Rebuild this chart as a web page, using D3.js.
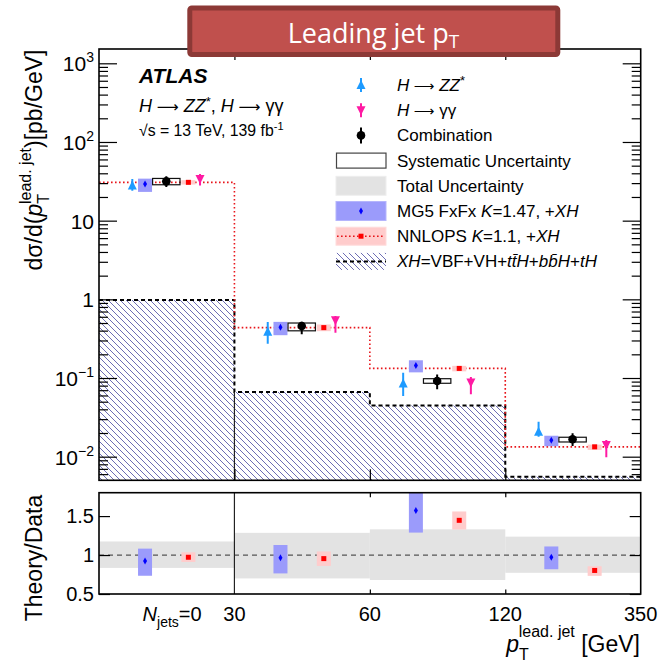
<!DOCTYPE html>
<html>
<head>
<meta charset="utf-8">
<script src="https://cdn.jsdelivr.net/npm/d3@7"></script>
<style>
  body { margin: 0; background: #fff; }
  svg { display: block; font-family: "Liberation Sans", Arial, Helvetica, sans-serif; }
</style>
</head>
<body>
<svg id="chart" width="658" height="662"></svg>
<script>
// ---- Leading-jet pT bins: 0-jet bin, 30-60, 60-120, 120-350 GeV ----
const edgeLabels = ["30", "60", "120", "350"];

// Measured differential cross sections (combination) and uncertainties
const combined  = [31.6, 0.458, 0.0916, 0.01663];
const combSysLo = [28.6, 0.398, 0.0857, 0.01538];
const combSysHi = [34.4, 0.500, 0.0980, 0.01766];
const combTotLo = [26.8, 0.360, 0.0718, 0.01367];
const combTotHi = [36.8, 0.519, 0.1110, 0.01980];

// Individual decay channels
const hzz   = [27.9, 0.388, 0.085, 0.0208];
const hzzLo = [24.0, 0.273, 0.059, 0.0179];
const hzzHi = [33.9, 0.515, 0.117, 0.0279];
const hgg   = [33.9, 0.541, 0.088, 0.01407];
const hggLo = [27.9, 0.377, 0.062, 0.0098];
const hggHi = [39.2, 0.613, 0.103, 0.0163];

// Theory predictions
const mg5      = [29.2, 0.442, 0.144, 0.01615];
const mg5Lo    = [23.2, 0.350, 0.118, 0.0136];
const mg5Hi    = [34.2, 0.517, 0.168, 0.01846];
const nnlops   = [30.7, 0.437, 0.1324, 0.01334];
const nnlopsLo = [28.8, 0.394, 0.1216, 0.01219];
const nnlopsHi = [32.7, 0.479, 0.1428, 0.01424];
const xhPart   = [0.98, 0.0664, 0.0447, 0.00557];

// Relative total uncertainty of the combined measurement (ratio band)
const totRelLo = [0.835, 0.700, 0.680, 0.772];
const totRelHi = [1.174, 1.285, 1.330, 1.236];

// ---- layout ----
const svg = d3.select("#chart");
const L = 99, R = 640.7;
const mainTop = 49, mainBot = 480.3;
const ratTop = 492.7, ratBot = 594;
const ARROW = { t: " \u27f6 ", ff: '"DejaVu Sans", sans-serif', sc: 0.85 };

const x = d3.scaleLinear().domain([0, 4]).range([L, R]);
const y = d3.scaleLog().domain([0.00501, 1520]).range([mainBot, mainTop]);
const yr = d3.scaleLinear().domain([0.5, 1.8]).range([ratBot, ratTop]);
const bins = d3.range(4);
const off = { zz: 0.246, mg5: 0.34, comb: 0.497, nn: 0.66, gg: 0.746 };

const defs = svg.append("defs");
const hatch = defs.append("pattern").attr("id", "hatch")
  .attr("patternUnits", "userSpaceOnUse").attr("width", 6).attr("height", 6);
hatch.append("path")
  .attr("d", "M-1,-1L7,7M-1,5L1,7M5,-1L7,1")
  .attr("stroke", "#6d6db5").attr("stroke-width", 1);
defs.append("clipPath").attr("id", "clipMain").append("rect")
  .attr("x", L).attr("y", mainTop).attr("width", R - L).attr("height", mainBot - mainTop);
defs.append("clipPath").attr("id", "clipRat").append("rect")
  .attr("x", L).attr("y", ratTop).attr("width", R - L).attr("height", ratBot - ratTop);

// text with mixed styles: italic, sub/superscripts, font switches
function rich(t, parts) {
  const base = +t.attr("font-size");
  parts.forEach(p => {
    const s = t.append("tspan").text(p.t);
    if (p.i) s.attr("font-style", "italic");
    if (p.b) s.attr("font-weight", "bold");
    if (p.fs) s.attr("font-size", p.fs);
    if (p.ff) s.attr("font-family", p.ff);
    if (p.sc) s.attr("font-size", base * p.sc);
    if (p.dy) s.attr("dy", p.dy);
    if (p.dx) s.attr("dx", p.dx);
  });
  return t;
}

// ================= main panel =================
const gm = svg.append("g").attr("clip-path", "url(#clipMain)");

// XH contribution: hatched step area with dashed outline
const stepPts = bins.map(i => [i, xhPart[i]]).concat([[4, xhPart[3]]]);
gm.append("path").datum(stepPts)
  .attr("d", d3.area().curve(d3.curveStepAfter).x(d => x(d[0])).y0(mainBot).y1(d => y(d[1])))
  .attr("fill", "url(#hatch)");
gm.append("path").datum(stepPts)
  .attr("d", d3.line().curve(d3.curveStepAfter).x(d => x(d[0])).y(d => y(d[1])))
  .attr("fill", "none").attr("stroke", "#000").attr("stroke-width", 2).attr("stroke-dasharray", "4,3");

// 0-jet separator
gm.append("line").attr("x1", x(1)).attr("x2", x(1)).attr("y1", y(xhPart[1])).attr("y2", mainBot)
  .attr("stroke", "#222").attr("stroke-width", 1.2);

// NNLOPS central value as dotted step line
const nnPts = bins.map(i => [i, nnlops[i]]).concat([[4, nnlops[3]]]);
gm.append("path").datum(nnPts)
  .attr("d", d3.line().curve(d3.curveStepAfter).x(d => x(d[0])).y(d => y(d[1])))
  .attr("fill", "none").attr("stroke", "#e8141a").attr("stroke-width", 1.6).attr("stroke-dasharray", "1.6,2.4");

// MG5 boxes
gm.selectAll(".mg5box").data(bins).join("rect")
  .attr("x", i => x(i + off.mg5) - 7).attr("width", 14)
  .attr("y", i => y(mg5Hi[i])).attr("height", i => y(mg5Lo[i]) - y(mg5Hi[i]))
  .attr("fill", "#9b9bfb");
gm.selectAll(".mg5c").data(bins).join("path")
  .attr("d", i => { const cx = x(i + off.mg5), cy = y(mg5[i]); return `M${cx},${cy - 3.5}L${cx + 2},${cy}L${cx},${cy + 3.5}L${cx - 2},${cy}Z`; })
  .attr("fill", "#0000ff");

// NNLOPS boxes
gm.selectAll(".nnbox").data(bins).join("rect")
  .attr("x", i => x(i + off.nn) - 7).attr("width", 14)
  .attr("y", i => y(nnlopsHi[i])).attr("height", i => y(nnlopsLo[i]) - y(nnlopsHi[i]))
  .attr("fill", "#ffcccc");
gm.selectAll(".nnc").data(bins).join("rect")
  .attr("x", i => x(i + off.nn) - 2.5).attr("width", 5)
  .attr("y", i => y(nnlops[i]) - 2.5).attr("height", 5)
  .attr("fill", "#ff0000");

// Combination: systematic box, total error bar, marker
gm.selectAll(".sys").data(bins).join("rect")
  .attr("x", i => x(i + off.comb) - 13.7).attr("width", 27.4)
  .attr("y", i => y(combSysHi[i])).attr("height", i => y(combSysLo[i]) - y(combSysHi[i]))
  .attr("fill", "none").attr("stroke", "#111").attr("stroke-width", 1.2);
gm.selectAll(".cerr").data(bins).join("line")
  .attr("x1", i => x(i + off.comb)).attr("x2", i => x(i + off.comb))
  .attr("y1", i => y(combTotHi[i])).attr("y2", i => y(combTotLo[i]))
  .attr("stroke", "#000").attr("stroke-width", 2);
gm.selectAll(".cdot").data(bins).join("circle")
  .attr("cx", i => x(i + off.comb)).attr("cy", i => y(combined[i])).attr("r", 4.3)
  .attr("fill", "#000");

// Channels
const zzCol = "#1e9bff", ggCol = "#ff1aa3";
function triUp(cx, cy) { return `M${cx},${cy - 5}L${cx + 4.5},${cy + 4}L${cx - 4.5},${cy + 4}Z`; }
function triDn(cx, cy) { return `M${cx},${cy + 5}L${cx + 4.5},${cy - 4}L${cx - 4.5},${cy - 4}Z`; }
gm.selectAll(".zzerr").data(bins).join("line")
  .attr("x1", i => x(i + off.zz)).attr("x2", i => x(i + off.zz))
  .attr("y1", i => y(hzzHi[i])).attr("y2", i => y(hzzLo[i]))
  .attr("stroke", zzCol).attr("stroke-width", 2);
gm.selectAll(".zzm").data(bins).join("path")
  .attr("d", i => triUp(x(i + off.zz), y(hzz[i]))).attr("fill", zzCol);
gm.selectAll(".ggerr").data(bins).join("line")
  .attr("x1", i => x(i + off.gg)).attr("x2", i => x(i + off.gg))
  .attr("y1", i => y(hggHi[i])).attr("y2", i => y(hggLo[i]))
  .attr("stroke", ggCol).attr("stroke-width", 2);
gm.selectAll(".ggm").data(bins).join("path")
  .attr("d", i => triDn(x(i + off.gg), y(hgg[i]))).attr("fill", ggCol);

// ---- main axes ----
const majors = [0.01, 0.1, 1, 10, 100, 1000];
const minors = [];
for (let e = -3; e <= 3; e++) for (let k = 2; k <= 9; k++) {
  const v = k * Math.pow(10, e);
  if (v > y.domain()[0] && v < y.domain()[1]) minors.push(v);
}
function styleAxis(g) { g.select(".domain").remove(); g.selectAll("line").attr("stroke", "#000").attr("stroke-width", 1.2); }
svg.append("g").attr("transform", `translate(${L},0)`)
  .call(d3.axisLeft(y).tickValues(majors).tickSizeInner(-18).tickSizeOuter(0).tickFormat("")).call(styleAxis);
svg.append("g").attr("transform", `translate(${L},0)`)
  .call(d3.axisLeft(y).tickValues(minors).tickSizeInner(-9).tickSizeOuter(0).tickFormat("")).call(styleAxis);
svg.append("g").attr("transform", `translate(${R},0)`)
  .call(d3.axisRight(y).tickValues(majors).tickSizeInner(-18).tickSizeOuter(0).tickFormat("")).call(styleAxis);
svg.append("g").attr("transform", `translate(${R},0)`)
  .call(d3.axisRight(y).tickValues(minors).tickSizeInner(-9).tickSizeOuter(0).tickFormat("")).call(styleAxis);
svg.append("g").attr("transform", `translate(0,${mainTop})`)
  .call(d3.axisTop(x).tickValues([1, 2, 3]).tickSizeInner(-11).tickSizeOuter(0).tickFormat("")).call(styleAxis);
svg.append("g").attr("transform", `translate(0,${mainBot})`)
  .call(d3.axisBottom(x).tickValues([1, 2, 3]).tickSizeInner(-11).tickSizeOuter(0).tickFormat("")).call(styleAxis);

// y tick labels
const yLabels = [
  { v: 1000, base: "10", sup: "3" }, { v: 100, base: "10", sup: "2" },
  { v: 10, base: "10" }, { v: 1, base: "1" },
  { v: 0.1, base: "10", sup: "\u22121" }, { v: 0.01, base: "10", sup: "\u22122" }
];
yLabels.forEach(d => {
  const t = svg.append("text").attr("x", 94).attr("y", y(d.v) + 8)
    .attr("text-anchor", "end").attr("font-size", 21).attr("fill", "#000");
  t.append("tspan").text(d.base);
  if (d.sup) t.append("tspan").attr("dy", -9).attr("font-size", 14).text(d.sup);
});

svg.append("rect").attr("x", L).attr("y", mainTop).attr("width", R - L).attr("height", mainBot - mainTop)
  .attr("fill", "none").attr("stroke", "#000").attr("stroke-width", 1.6);

// y title
rich(svg.append("text").attr("transform", "translate(42,160) rotate(-90)")
  .attr("text-anchor", "middle").attr("font-size", 23), [
  { t: "d\u03c3/d(" }, { t: "p", i: 1 }, { t: "T", fs: 16, dy: 7 },
  { t: "lead. jet", fs: 16, dx: -10, dy: -18 }, { t: ")[pb/GeV]", dy: 11 }
]);

// ATLAS label
svg.append("text").attr("x", 139).attr("y", 83).attr("font-size", 21)
  .attr("font-weight", "bold").attr("font-style", "italic").text("ATLAS");
rich(svg.append("text").attr("x", 139).attr("y", 112).attr("font-size", 18), [
  { t: "H", i: 1 }, ARROW, { t: "ZZ", i: 1 }, { t: "*", fs: 13, dy: -6 },
  { t: ", ", dy: 6 }, { t: "H", i: 1 }, ARROW, { t: "\u03b3\u03b3" }
]);
rich(svg.append("text").attr("x", 139).attr("y", 136).attr("font-size", 15.8), [
  { t: "\u221as = 13 TeV, 139 fb" }, { t: "-1", fs: 11, dy: -6 }
]);

// ---- legend ----
const lg = svg.append("g");
const lx = 361, tx = 397, ly0 = 85, ldy = 25.2;
const rowY = i => ly0 + i * ldy;
// H->ZZ*
lg.append("line").attr("x1", lx).attr("x2", lx).attr("y1", rowY(0) - 7).attr("y2", rowY(0) + 7).attr("stroke", zzCol).attr("stroke-width", 2);
lg.append("path").attr("d", triUp(lx, rowY(0))).attr("fill", zzCol);
// H->gamma gamma
lg.append("line").attr("x1", lx).attr("x2", lx).attr("y1", rowY(1) - 7).attr("y2", rowY(1) + 7).attr("stroke", ggCol).attr("stroke-width", 2);
lg.append("path").attr("d", triDn(lx, rowY(1))).attr("fill", ggCol);
// Combination
lg.append("line").attr("x1", lx).attr("x2", lx).attr("y1", rowY(2) - 8).attr("y2", rowY(2) + 8).attr("stroke", "#000").attr("stroke-width", 2);
lg.append("circle").attr("cx", lx).attr("cy", rowY(2)).attr("r", 4.3).attr("fill", "#000");
// Systematic
lg.append("rect").attr("x", 336.5).attr("y", rowY(3) - 7.5).attr("width", 49.5).attr("height", 15)
  .attr("fill", "#fff").attr("stroke", "#444").attr("stroke-width", 1.2);
// Total
lg.append("rect").attr("x", 336).attr("y", rowY(4) - 9.5).attr("width", 50).attr("height", 19)
  .attr("fill", "#e3e3e3").attr("stroke", "#eee");
// MG5
lg.append("rect").attr("x", 336).attr("y", rowY(5) - 9.5).attr("width", 50).attr("height", 19)
  .attr("fill", "#9b9bfb").attr("stroke", "#b5b5fc");
lg.append("path").attr("d", `M${lx},${rowY(5) - 3.5}L${lx + 2},${rowY(5)}L${lx},${rowY(5) + 3.5}L${lx - 2},${rowY(5)}Z`).attr("fill", "#0000ff");
// NNLOPS
lg.append("rect").attr("x", 336).attr("y", rowY(6) - 9).attr("width", 50).attr("height", 18)
  .attr("fill", "#ffcccc").attr("stroke", "#ffdcdc");
lg.append("line").attr("x1", 337).attr("x2", 385).attr("y1", rowY(6)).attr("y2", rowY(6))
  .attr("stroke", "#e8141a").attr("stroke-width", 1.4).attr("stroke-dasharray", "1.6,2.4");
lg.append("rect").attr("x", lx - 2.5).attr("y", rowY(6) - 2.5).attr("width", 5).attr("height", 5).attr("fill", "#ff0000");
// XH
lg.append("rect").attr("x", 336).attr("y", rowY(7) - 8.5).attr("width", 50).attr("height", 17).attr("fill", "url(#hatch)");
lg.append("line").attr("x1", 336).attr("x2", 386).attr("y1", rowY(7)).attr("y2", rowY(7))
  .attr("stroke", "#000").attr("stroke-width", 2).attr("stroke-dasharray", "4,3");

const legendText = [
  [{ t: "H", i: 1 }, ARROW, { t: "ZZ", i: 1 }, { t: "*", fs: 13, dy: -6 }],
  [{ t: "H", i: 1 }, ARROW, { t: "\u03b3\u03b3" }],
  [{ t: "Combination" }],
  [{ t: "Systematic Uncertainty" }],
  [{ t: "Total Uncertainty" }],
  [{ t: "MG5 FxFx " }, { t: "K", i: 1 }, { t: "=1.47, +" }, { t: "XH", i: 1 }],
  [{ t: "NNLOPS " }, { t: "K", i: 1 }, { t: "=1.1, +" }, { t: "XH", i: 1 }],
  [{ t: "XH", i: 1 }, { t: "=VBF+VH+" }, { t: "t", i: 1 }, { t: "t\u0304", i: 1 }, { t: "H", i: 1 }, { t: "+" },
   { t: "b", i: 1 }, { t: "b\u0304", i: 1 }, { t: "H", i: 1 }, { t: "+" }, { t: "tH", i: 1 }]
];
legendText.forEach((parts, i) => {
  rich(lg.append("text").attr("x", tx).attr("y", rowY(i) + 6).attr("font-size", 17), parts);
});

// ================= ratio panel =================
const gr = svg.append("g").attr("clip-path", "url(#clipRat)");
gr.selectAll(".band").data(bins).join("rect")
  .attr("x", i => x(i)).attr("width", i => x(i + 1) - x(i))
  .attr("y", i => yr(totRelHi[i])).attr("height", i => yr(totRelLo[i]) - yr(totRelHi[i]))
  .attr("fill", "#e3e3e3");
gr.append("line").attr("x1", L).attr("x2", R).attr("y1", yr(1)).attr("y2", yr(1))
  .attr("stroke", "#555").attr("stroke-width", 1.3).attr("stroke-dasharray", "5,4");
gr.append("line").attr("x1", x(1)).attr("x2", x(1)).attr("y1", ratTop).attr("y2", ratBot)
  .attr("stroke", "#222").attr("stroke-width", 1.2);

gr.selectAll(".rmg").data(bins).join("rect")
  .attr("x", i => x(i + off.mg5) - 7).attr("width", 14)
  .attr("y", i => yr(mg5Hi[i] / combined[i])).attr("height", i => yr(mg5Lo[i] / combined[i]) - yr(mg5Hi[i] / combined[i]))
  .attr("fill", "#9b9bfb");
gr.selectAll(".rmgc").data(bins).join("path")
  .attr("d", i => { const cx = x(i + off.mg5), cy = yr(mg5[i] / combined[i]); return `M${cx},${cy - 3.5}L${cx + 2},${cy}L${cx},${cy + 3.5}L${cx - 2},${cy}Z`; })
  .attr("fill", "#0000ff");
gr.selectAll(".rnn").data(bins).join("rect")
  .attr("x", i => x(i + off.nn) - 7).attr("width", 14)
  .attr("y", i => yr(nnlopsHi[i] / combined[i])).attr("height", i => yr(nnlopsLo[i] / combined[i]) - yr(nnlopsHi[i] / combined[i]))
  .attr("fill", "#ffcccc");
gr.selectAll(".rnnc").data(bins).join("rect")
  .attr("x", i => x(i + off.nn) - 2.5).attr("width", 5)
  .attr("y", i => yr(nnlops[i] / combined[i]) - 2.5).attr("height", 5)
  .attr("fill", "#ff0000");

// ratio axes
svg.append("g").attr("transform", `translate(${L},0)`)
  .call(d3.axisLeft(yr).tickValues([0.5, 1, 1.5]).tickSizeInner(-11).tickSizeOuter(0).tickFormat("")).call(styleAxis);
svg.append("g").attr("transform", `translate(${R},0)`)
  .call(d3.axisRight(yr).tickValues([0.5, 1, 1.5]).tickSizeInner(-11).tickSizeOuter(0).tickFormat("")).call(styleAxis);
svg.append("g").attr("transform", `translate(0,${ratTop})`)
  .call(d3.axisTop(x).tickValues([2, 3]).tickSizeInner(-4.5).tickSizeOuter(0).tickFormat("")).call(styleAxis);
svg.append("g").attr("transform", `translate(0,${ratBot})`)
  .call(d3.axisBottom(x).tickValues([2, 3]).tickSizeInner(-4.5).tickSizeOuter(0).tickFormat("")).call(styleAxis);
svg.append("rect").attr("x", L).attr("y", ratTop).attr("width", R - L).attr("height", ratBot - ratTop)
  .attr("fill", "none").attr("stroke", "#000").attr("stroke-width", 1.6);

[0.5, 1, 1.5].forEach(v => {
  svg.append("text").attr("x", 94).attr("y", yr(v) + 7).attr("text-anchor", "end")
    .attr("font-size", 20).text(v === 1 ? "1" : String(v));
});
svg.append("text").attr("transform", "translate(42,558) rotate(-90)")
  .attr("text-anchor", "middle").attr("font-size", 23).text("Theory/Data");

// x tick labels
edgeLabels.forEach((lab, i) => {
  svg.append("text").attr("x", x(i + 1)).attr("y", 621).attr("text-anchor", "middle")
    .attr("font-size", 20).text(lab);
});
rich(svg.append("text").attr("x", x(0.54)).attr("y", 621).attr("text-anchor", "middle").attr("font-size", 20), [
  { t: "N", i: 1 }, { t: "jets", fs: 14, dy: 6 }, { t: "=0", dy: -6 }
]);

// x title
rich(svg.append("text").attr("x", 640).attr("y", 652).attr("text-anchor", "end").attr("font-size", 23), [
  { t: "p", i: 1 }, { t: "T", fs: 16, dy: 8 }, { t: "lead. jet", fs: 16, dx: -10, dy: -23 }, { t: " [GeV]", dy: 15 }
]);

// ================= title banner =================
svg.append("rect").attr("x", 189.8).attr("y", 8).attr("width", 368).attr("height", 46.5)
  .attr("rx", 2).attr("fill", "#c0504d").attr("stroke", "#8c3936").attr("stroke-width", 5);
rich(svg.append("text").attr("x", 373.5).attr("y", 43).attr("text-anchor", "middle")
  .attr("font-family", '"Open Sans", Lato, sans-serif').attr("font-size", 27).attr("fill", "#fff"), [
  { t: "Leading jet p" }, { t: "T", fs: 19, dy: 5 }
]);
</script>
</body>
</html>
